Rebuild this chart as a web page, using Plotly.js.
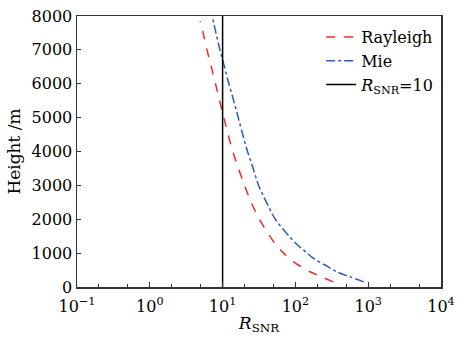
<!DOCTYPE html>
<html>
<head>
<meta charset="utf-8">
<script src="https://cdn.plot.ly/plotly-3.0.1.min.js"></script>
<style>html,body{margin:0;padding:0;background:#fff;}#chart{width:457px;height:346px;}</style>
</head>
<body>
<div id="chart"></div>
<script>
// Rayleigh channel: height (m) and SNR
const rayleighHeight = [150, 300, 450, 750, 1000, 1250, 1500, 2000, 2500, 3000, 3500, 4000, 4500, 5000, 5500, 6000, 6500, 7000, 7500, 7850];
const rayleighSNR    = [331, 228, 158, 93.5, 69, 54, 44.5, 32, 24.7, 20, 16.5, 13.8, 11.9, 10.4, 9.1, 8.0, 7.0, 6.1, 5.4, 4.9];
// Mie channel
const mieHeight = [150, 300, 450, 600, 850, 1000, 1300, 1500, 2000, 2500, 3000, 3500, 4000, 4500, 5000, 5500, 6000, 6500, 7000, 7500, 8000];
const mieSNR    = [870, 567, 369, 279, 176, 145, 100, 82, 53, 40, 31.2, 26.3, 22, 18.9, 16.4, 14.2, 12.2, 10.6, 9.2, 8.1, 7.2];
// Threshold line
const thresholdSNR = [10, 10];
const thresholdHeight = [0, 8000];
const seriesNames = ['Rayleigh', 'Mie', '<i>R</i><sub>SNR</sub>=10'];
// Axis ticks
const xTickVals = [0.1, 1, 10, 100, 1000, 10000];
const xTickText = ['10<sup>−1</sup>', '10<sup>0</sup>', '10<sup>1</sup>', '10<sup>2</sup>', '10<sup>3</sup>', '10<sup>4</sup>'];
const yTickVals = [0, 1000, 2000, 3000, 4000, 5000, 6000, 7000, 8000];

const font = 'DejaVu Serif, Liberation Serif, serif';
const traces = [
  {x: rayleighSNR, y: rayleighHeight, name: seriesNames[0], mode: 'lines',
   line: {color: '#f02a2a', width: 1.5, dash: 'dash', shape: 'spline', smoothing: 0.8}},
  {x: mieSNR, y: mieHeight, name: seriesNames[1], mode: 'lines',
   line: {color: '#2d5cb5', width: 1.5, dash: 'dashdot', shape: 'spline', smoothing: 0.8}},
  {x: thresholdSNR, y: thresholdHeight, name: seriesNames[2], mode: 'lines',
   line: {color: '#000000', width: 1.5}}
];
const layout = {
  width: 457, height: 346,
  margin: {l: 77, r: 16, t: 16, b: 59},
  paper_bgcolor: '#fff', plot_bgcolor: '#fff',
  font: {family: font, size: 16, color: '#000'},
  showlegend: true,
  legend: {x: 0.995, y: 0.985, xanchor: 'right', yanchor: 'top', bgcolor: 'rgba(0,0,0,0)',
           font: {family: font, size: 16}, tracegroupgap: 0, itemwidth: 30},
  xaxis: {type: 'log', range: [-1, 4], tickvals: xTickVals, ticktext: xTickText,
          showline: true, linecolor: '#333', linewidth: 1.5, mirror: true,
          ticks: 'inside', ticklen: 5, tickcolor: '#333', showgrid: false, zeroline: false,
          ticklabelstandoff: 4,
          minor: {ticks: 'inside', ticklen: 3, tickcolor: '#333', showgrid: false},
          tickfont: {family: font, size: 16},
          title: {text: '<i>R</i><sub>SNR</sub>', font: {family: font, size: 17}, standoff: 2}},
  yaxis: {range: [0, 8000], tickvals: yTickVals, tickformat: 'd',
          showline: true, linecolor: '#333', linewidth: 1.5, mirror: true,
          ticks: 'inside', ticklen: 4, tickcolor: '#333', showgrid: false, zeroline: false,
          tickfont: {family: font, size: 16},
          title: {text: 'Height /m', font: {family: font, size: 17}, standoff: 6}}
};
Plotly.newPlot('chart', traces, layout, {displayModeBar: false, staticPlot: true});
</script>
</body>
</html>
